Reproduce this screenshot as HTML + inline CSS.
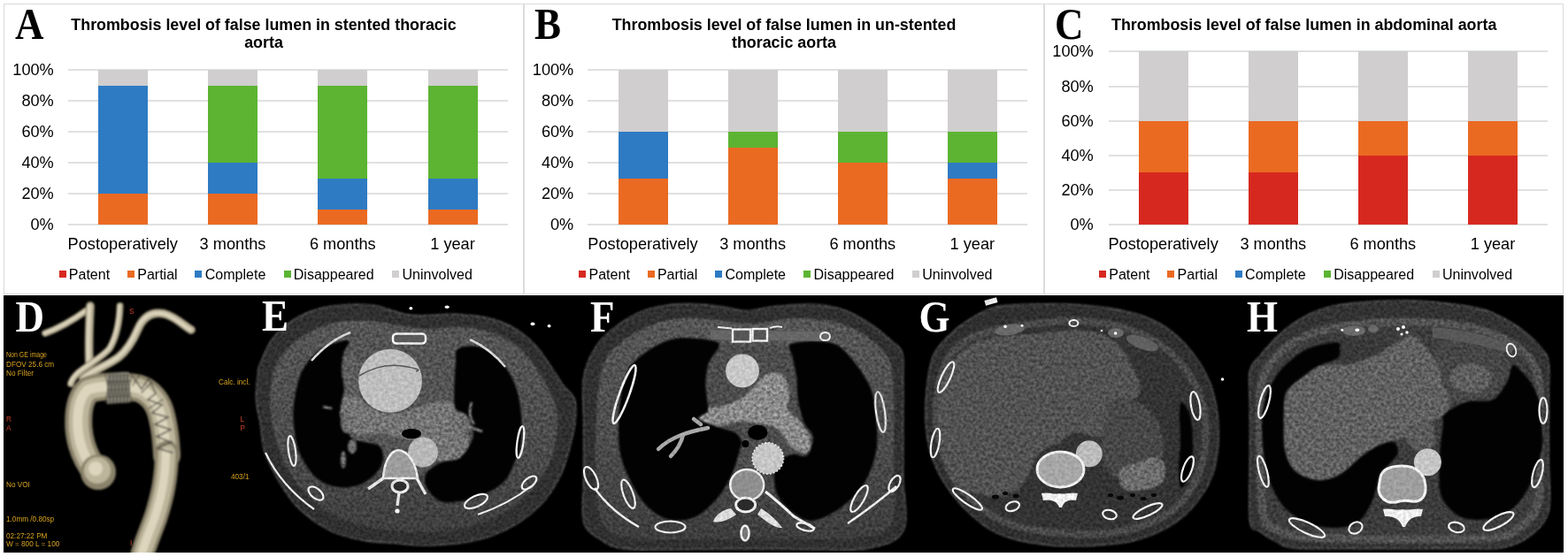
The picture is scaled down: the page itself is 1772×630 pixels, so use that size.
<!DOCTYPE html>
<html><head><meta charset="utf-8"><title>Thrombosis level of false lumen</title>
<style>
html,body{margin:0;padding:0;background:#fff;}
body{width:1772px;height:630px;position:relative;overflow:hidden;font-family:"Liberation Sans",Arial,sans-serif;color:#000;}
.frame{position:absolute;left:4px;top:4px;width:1761px;height:327px;border:1px solid #dadada;}
.vdiv{position:absolute;top:4px;width:2px;height:328px;background:#dcdcdc;}
.let{position:absolute;font-family:"Liberation Serif","Times New Roman",serif;font-weight:bold;font-size:45px;line-height:50px;transform:scaleY(1.12);transform-origin:0 0;}
.ttl{position:absolute;width:600px;text-align:center;font-weight:bold;font-size:17.85px;line-height:21px;white-space:nowrap;}
.grid{position:absolute;height:2px;background:#e0e0e0;}
.yl{position:absolute;width:60px;text-align:right;font-size:18.2px;line-height:20px;}
.bar{position:absolute;}
.xl{position:absolute;width:200px;text-align:center;font-size:18.2px;line-height:22px;white-space:nowrap;}
.lsq{position:absolute;top:306px;width:8px;height:8px;}
.ltx{position:absolute;top:300px;font-size:16.05px;line-height:20px;white-space:nowrap;}
.ct{position:absolute;left:4px;top:334px;width:1763px;height:291px;background:#000;overflow:hidden;}
.ct svg{position:absolute;left:0;top:0;}
.plet{position:absolute;font-family:"Liberation Serif","Times New Roman",serif;font-weight:bold;font-size:45px;line-height:50px;color:#fff;transform:scaleY(1.12);transform-origin:0 0;}
</style></head><body>
<div class="frame"></div>
<div class="vdiv" style="left:591px"></div>
<div class="vdiv" style="left:1179px"></div>
<div class="let" style="left:17px;top:-0.8px">A</div>
<div class="ttl" style="left:-2px;top:18.0px">Thrombosis level of false lumen in stented thoracic</div>
<div class="ttl" style="left:-2px;top:38.4px">aorta</div>
<div class="grid" style="left:76.7px;width:496.9px;top:78.0px"></div>
<div class="yl" style="left:0.8px;top:69.0px">100%</div>
<div class="grid" style="left:76.7px;width:496.9px;top:113.0px"></div>
<div class="yl" style="left:0.8px;top:104.0px">80%</div>
<div class="grid" style="left:76.7px;width:496.9px;top:148.0px"></div>
<div class="yl" style="left:0.8px;top:139.0px">60%</div>
<div class="grid" style="left:76.7px;width:496.9px;top:183.0px"></div>
<div class="yl" style="left:0.8px;top:174.0px">40%</div>
<div class="grid" style="left:76.7px;width:496.9px;top:218.0px"></div>
<div class="yl" style="left:0.8px;top:209.0px">20%</div>
<div class="grid" style="left:76.7px;width:496.9px;top:253.0px"></div>
<div class="yl" style="left:0.8px;top:244.0px">0%</div>
<div class="bar" style="left:110.8px;width:56px;top:219.0px;height:35.0px;background:#eb6a22"></div>
<div class="bar" style="left:110.8px;width:56px;top:96.5px;height:122.5px;background:#2e7bc3"></div>
<div class="bar" style="left:110.8px;width:56px;top:79.0px;height:17.5px;background:#d0cece"></div>
<div class="xl" style="left:38.8px;top:265px">Postoperatively</div>
<div class="bar" style="left:235.0px;width:56px;top:219.0px;height:35.0px;background:#eb6a22"></div>
<div class="bar" style="left:235.0px;width:56px;top:184.0px;height:35.0px;background:#2e7bc3"></div>
<div class="bar" style="left:235.0px;width:56px;top:96.5px;height:87.5px;background:#5cb432"></div>
<div class="bar" style="left:235.0px;width:56px;top:79.0px;height:17.5px;background:#d0cece"></div>
<div class="xl" style="left:163.0px;top:265px">3 months</div>
<div class="bar" style="left:359.3px;width:56px;top:236.5px;height:17.5px;background:#eb6a22"></div>
<div class="bar" style="left:359.3px;width:56px;top:201.5px;height:35.0px;background:#2e7bc3"></div>
<div class="bar" style="left:359.3px;width:56px;top:96.5px;height:105.0px;background:#5cb432"></div>
<div class="bar" style="left:359.3px;width:56px;top:79.0px;height:17.5px;background:#d0cece"></div>
<div class="xl" style="left:287.3px;top:265px">6 months</div>
<div class="bar" style="left:483.5px;width:56px;top:236.5px;height:17.5px;background:#eb6a22"></div>
<div class="bar" style="left:483.5px;width:56px;top:201.5px;height:35.0px;background:#2e7bc3"></div>
<div class="bar" style="left:483.5px;width:56px;top:96.5px;height:105.0px;background:#5cb432"></div>
<div class="bar" style="left:483.5px;width:56px;top:79.0px;height:17.5px;background:#d0cece"></div>
<div class="xl" style="left:411.5px;top:265px">1 year</div>
<div class="lsq" style="left:66.5px;background:#d7281f"></div>
<div class="ltx" style="left:77.8px">Patent</div>
<div class="lsq" style="left:143.9px;background:#eb6a22"></div>
<div class="ltx" style="left:155.2px">Partial</div>
<div class="lsq" style="left:220.4px;background:#2e7bc3"></div>
<div class="ltx" style="left:231.7px">Complete</div>
<div class="lsq" style="left:320.5px;background:#5cb432"></div>
<div class="ltx" style="left:331.8px">Disappeared</div>
<div class="lsq" style="left:443.2px;background:#d0cece"></div>
<div class="ltx" style="left:454.5px">Uninvolved</div>
<div class="let" style="left:604px;top:-0.8px">B</div>
<div class="ttl" style="left:586px;top:18.0px">Thrombosis level of false lumen in un-stented</div>
<div class="ttl" style="left:586px;top:38.4px">thoracic aorta</div>
<div class="grid" style="left:664.4px;width:496.6px;top:78.0px"></div>
<div class="yl" style="left:588.3px;top:69.0px">100%</div>
<div class="grid" style="left:664.4px;width:496.6px;top:113.0px"></div>
<div class="yl" style="left:588.3px;top:104.0px">80%</div>
<div class="grid" style="left:664.4px;width:496.6px;top:148.0px"></div>
<div class="yl" style="left:588.3px;top:139.0px">60%</div>
<div class="grid" style="left:664.4px;width:496.6px;top:183.0px"></div>
<div class="yl" style="left:588.3px;top:174.0px">40%</div>
<div class="grid" style="left:664.4px;width:496.6px;top:218.0px"></div>
<div class="yl" style="left:588.3px;top:209.0px">20%</div>
<div class="grid" style="left:664.4px;width:496.6px;top:253.0px"></div>
<div class="yl" style="left:588.3px;top:244.0px">0%</div>
<div class="bar" style="left:698.5px;width:56px;top:201.5px;height:52.5px;background:#eb6a22"></div>
<div class="bar" style="left:698.5px;width:56px;top:149.0px;height:52.5px;background:#2e7bc3"></div>
<div class="bar" style="left:698.5px;width:56px;top:79.0px;height:70.0px;background:#d0cece"></div>
<div class="xl" style="left:626.5px;top:265px">Postoperatively</div>
<div class="bar" style="left:822.6px;width:56px;top:166.5px;height:87.5px;background:#eb6a22"></div>
<div class="bar" style="left:822.6px;width:56px;top:149.0px;height:17.5px;background:#5cb432"></div>
<div class="bar" style="left:822.6px;width:56px;top:79.0px;height:70.0px;background:#d0cece"></div>
<div class="xl" style="left:750.6px;top:265px">3 months</div>
<div class="bar" style="left:946.8px;width:56px;top:184.0px;height:70.0px;background:#eb6a22"></div>
<div class="bar" style="left:946.8px;width:56px;top:149.0px;height:35.0px;background:#5cb432"></div>
<div class="bar" style="left:946.8px;width:56px;top:79.0px;height:70.0px;background:#d0cece"></div>
<div class="xl" style="left:874.8px;top:265px">6 months</div>
<div class="bar" style="left:1070.9px;width:56px;top:201.5px;height:52.5px;background:#eb6a22"></div>
<div class="bar" style="left:1070.9px;width:56px;top:184.0px;height:17.5px;background:#2e7bc3"></div>
<div class="bar" style="left:1070.9px;width:56px;top:149.0px;height:35.0px;background:#5cb432"></div>
<div class="bar" style="left:1070.9px;width:56px;top:79.0px;height:70.0px;background:#d0cece"></div>
<div class="xl" style="left:998.9px;top:265px">1 year</div>
<div class="lsq" style="left:654.2px;background:#d7281f"></div>
<div class="ltx" style="left:665.5px">Patent</div>
<div class="lsq" style="left:731.6px;background:#eb6a22"></div>
<div class="ltx" style="left:742.9px">Partial</div>
<div class="lsq" style="left:808.1px;background:#2e7bc3"></div>
<div class="ltx" style="left:819.4px">Complete</div>
<div class="lsq" style="left:908.2px;background:#5cb432"></div>
<div class="ltx" style="left:919.5px">Disappeared</div>
<div class="lsq" style="left:1030.9px;background:#d0cece"></div>
<div class="ltx" style="left:1042.2px">Uninvolved</div>
<div class="let" style="left:1192px;top:-0.8px">C</div>
<div class="ttl" style="left:1173.7px;top:18.0px">Thrombosis level of false lumen in abdominal aorta</div>
<div class="grid" style="left:1252.6px;width:496.4px;top:57.4px"></div>
<div class="yl" style="left:1175.8px;top:48.4px">100%</div>
<div class="grid" style="left:1252.6px;width:496.4px;top:96.5px"></div>
<div class="yl" style="left:1175.8px;top:87.5px">80%</div>
<div class="grid" style="left:1252.6px;width:496.4px;top:135.6px"></div>
<div class="yl" style="left:1175.8px;top:126.6px">60%</div>
<div class="grid" style="left:1252.6px;width:496.4px;top:174.8px"></div>
<div class="yl" style="left:1175.8px;top:165.8px">40%</div>
<div class="grid" style="left:1252.6px;width:496.4px;top:213.9px"></div>
<div class="yl" style="left:1175.8px;top:204.9px">20%</div>
<div class="grid" style="left:1252.6px;width:496.4px;top:253.0px"></div>
<div class="yl" style="left:1175.8px;top:244.0px">0%</div>
<div class="bar" style="left:1286.6px;width:56px;top:195.3px;height:58.7px;background:#d7281f"></div>
<div class="bar" style="left:1286.6px;width:56px;top:136.6px;height:58.7px;background:#eb6a22"></div>
<div class="bar" style="left:1286.6px;width:56px;top:58.4px;height:78.2px;background:#d0cece"></div>
<div class="xl" style="left:1214.6px;top:265px">Postoperatively</div>
<div class="bar" style="left:1410.8px;width:56px;top:195.3px;height:58.7px;background:#d7281f"></div>
<div class="bar" style="left:1410.8px;width:56px;top:136.6px;height:58.7px;background:#eb6a22"></div>
<div class="bar" style="left:1410.8px;width:56px;top:58.4px;height:78.2px;background:#d0cece"></div>
<div class="xl" style="left:1338.8px;top:265px">3 months</div>
<div class="bar" style="left:1534.8px;width:56px;top:175.8px;height:78.2px;background:#d7281f"></div>
<div class="bar" style="left:1534.8px;width:56px;top:136.6px;height:39.1px;background:#eb6a22"></div>
<div class="bar" style="left:1534.8px;width:56px;top:58.4px;height:78.2px;background:#d0cece"></div>
<div class="xl" style="left:1462.8px;top:265px">6 months</div>
<div class="bar" style="left:1659.0px;width:56px;top:175.8px;height:78.2px;background:#d7281f"></div>
<div class="bar" style="left:1659.0px;width:56px;top:136.6px;height:39.1px;background:#eb6a22"></div>
<div class="bar" style="left:1659.0px;width:56px;top:58.4px;height:78.2px;background:#d0cece"></div>
<div class="xl" style="left:1587.0px;top:265px">1 year</div>
<div class="lsq" style="left:1241.9px;background:#d7281f"></div>
<div class="ltx" style="left:1253.2px">Patent</div>
<div class="lsq" style="left:1319.3px;background:#eb6a22"></div>
<div class="ltx" style="left:1330.6px">Partial</div>
<div class="lsq" style="left:1395.8px;background:#2e7bc3"></div>
<div class="ltx" style="left:1407.1px">Complete</div>
<div class="lsq" style="left:1495.9px;background:#5cb432"></div>
<div class="ltx" style="left:1507.2px">Disappeared</div>
<div class="lsq" style="left:1618.6px;background:#d0cece"></div>
<div class="ltx" style="left:1629.9px">Uninvolved</div><div class="ctwrap">
<svg width="1772" height="630" viewBox="0 0 1772 630" style="position:absolute;left:0;top:0">
<defs><filter id="b1" x="-5%" y="-5%" width="110%" height="110%"><feGaussianBlur stdDeviation="0.8"/></filter><filter id="b2" x="-5%" y="-5%" width="110%" height="110%"><feGaussianBlur stdDeviation="2"/></filter><linearGradient id="gin" gradientUnits="userSpaceOnUse" x1="0" y1="360" x2="0" y2="615"><stop offset="0" stop-color="#565656"/><stop offset="0.55" stop-color="#4c4c4c"/><stop offset="1" stop-color="#3c3c3c"/></linearGradient><filter id="ctf" color-interpolation-filters="sRGB"><feGaussianBlur in="SourceGraphic" stdDeviation="0.8" result="b"/><feTurbulence type="fractalNoise" baseFrequency="0.28" numOctaves="2" seed="7" result="t"/><feColorMatrix in="t" type="matrix" values="1 0 0 0 0  1 0 0 0 0  1 0 0 0 0  0 0 0 0 1" result="g"/><feComposite in="b" in2="g" operator="arithmetic" k1="1.0" k2="0.5" k3="0" k4="0"/></filter><filter id="ctf2" color-interpolation-filters="sRGB"><feGaussianBlur in="SourceGraphic" stdDeviation="0.7" result="b"/><feTurbulence type="fractalNoise" baseFrequency="0.28" numOctaves="2" seed="11" result="t"/><feColorMatrix in="t" type="matrix" values="1 0 0 0 0  1 0 0 0 0  1 0 0 0 0  0 0 0 0 1" result="g"/><feComposite in="b" in2="g" operator="arithmetic" k1="0.3" k2="0.85" k3="0" k4="0"/></filter><clipPath id="cb"><rect x="4" y="334" width="1763" height="291"/></clipPath></defs>
<rect x="4" y="334" width="1763" height="291" fill="#000"/>
<g clip-path="url(#cb)">
<g filter="url(#ctf)">
<path d="M289.4,451.0 C289.0,441.0 290.9,426.8 291.7,420.0 C292.5,413.2 291.6,416.7 294.3,410.5 C297.1,404.3 302.0,390.8 308.2,382.7 C314.4,374.6 322.4,367.4 331.3,361.8 C340.2,356.2 351.1,351.9 361.5,349.0 C371.9,346.1 383.5,345.0 393.9,344.4 C404.3,343.8 415.1,344.2 424.0,345.6 C432.9,347.0 441.0,350.8 447.2,352.5 C453.4,354.2 456.4,355.2 461.0,356.0 C465.6,356.8 470.2,356.9 475.0,357.0 C479.8,357.1 483.1,356.8 490.0,356.5 C496.9,356.2 506.1,354.8 516.3,355.3 C526.5,355.8 540.2,356.9 551.0,359.5 C561.8,362.1 572.3,366.0 581.2,371.0 C590.1,376.0 597.4,382.3 604.4,389.6 C611.4,396.9 617.6,407.3 623.0,415.0 C628.4,422.7 632.4,429.8 636.8,436.0 C641.2,442.2 647.5,444.9 649.6,452.2 C651.7,459.5 651.0,469.6 649.6,480.0 C648.2,490.4 644.4,504.8 641.5,514.8 C638.6,524.8 636.8,531.3 632.2,540.2 C627.6,549.1 621.4,559.5 613.7,568.0 C606.0,576.5 595.1,585.0 585.8,591.2 C576.5,597.4 567.6,601.4 558.0,605.1 C548.4,608.8 538.8,611.3 528.0,613.2 C517.2,615.1 502.9,616.1 493.2,616.7 C483.5,617.3 477.7,617.1 470.0,616.7 C462.3,616.3 456.4,615.2 447.2,614.4 C438.0,613.6 425.5,613.7 414.7,612.0 C403.9,610.3 392.3,607.9 382.3,604.0 C372.3,600.1 363.0,594.9 354.5,588.9 C346.0,582.9 338.2,576.1 331.3,568.0 C324.4,559.9 318.2,549.9 312.8,540.2 C307.4,530.6 302.0,520.1 298.9,510.1 C295.8,500.1 295.9,489.9 294.3,480.0 C292.7,470.1 289.8,461.0 289.4,451.0Z" fill="#303030" stroke="#5e5e5e" stroke-width="1.3"/>
<path d="M305.0,455.0 C304.7,444.2 305.5,434.2 308.0,425.0 C310.5,415.8 313.8,407.8 320.0,400.0 C326.2,392.2 335.8,383.7 345.0,378.0 C354.2,372.3 364.2,368.7 375.0,366.0 C385.8,363.3 397.5,361.7 410.0,362.0 C422.5,362.3 438.3,366.3 450.0,368.0 C461.7,369.7 468.3,371.7 480.0,372.0 C491.7,372.3 507.5,369.3 520.0,370.0 C532.5,370.7 544.2,372.3 555.0,376.0 C565.8,379.7 576.7,385.5 585.0,392.0 C593.3,398.5 599.2,407.0 605.0,415.0 C610.8,423.0 615.8,430.8 620.0,440.0 C624.2,449.2 629.0,458.3 630.0,470.0 C631.0,481.7 629.0,498.3 626.0,510.0 C623.0,521.7 618.0,530.8 612.0,540.0 C606.0,549.2 598.7,557.5 590.0,565.0 C581.3,572.5 571.7,579.5 560.0,585.0 C548.3,590.5 533.3,595.2 520.0,598.0 C506.7,600.8 493.3,601.7 480.0,602.0 C466.7,602.3 453.3,601.7 440.0,600.0 C426.7,598.3 412.0,595.7 400.0,592.0 C388.0,588.3 377.7,584.2 368.0,578.0 C358.3,571.8 349.7,563.8 342.0,555.0 C334.3,546.2 327.3,535.8 322.0,525.0 C316.7,514.2 312.8,501.7 310.0,490.0 C307.2,478.3 305.3,465.8 305.0,455.0Z" fill="url(#gin)" />
<path d="M385.0,400.3 C387.8,393.1 391.1,390.3 400.3,387.6 C409.5,384.9 427.6,383.9 440.0,384.0 C452.4,384.1 465.5,386.1 475.0,388.0 C484.5,389.9 490.6,388.1 496.8,395.2 C503.0,402.3 508.6,419.8 512.0,430.8 C515.4,441.8 515.3,454.5 517.0,461.3 C518.7,468.1 519.8,465.0 522.0,471.4 C524.2,477.8 530.0,491.8 530.0,499.4 C530.0,507.0 528.0,513.2 522.0,517.0 C516.0,520.8 501.0,519.4 494.3,522.0 C487.6,524.6 487.3,530.2 481.6,532.4 C475.9,534.6 466.9,536.2 460.0,535.0 C453.1,533.8 445.8,529.2 440.0,525.0 C434.2,520.8 431.7,514.2 425.0,510.0 C418.3,505.8 406.2,504.2 400.0,500.0 C393.8,495.8 389.7,492.3 388.0,485.0 C386.3,477.7 390.7,465.0 390.0,456.0 C389.3,447.0 384.6,440.1 383.8,430.8 C383.0,421.5 382.2,407.5 385.0,400.3Z" fill="#545454" />
<path d="M392.0,440.0 C397.8,439.5 411.2,457.3 420.0,462.0 C428.8,466.7 436.7,468.0 445.0,468.0 C453.3,468.0 462.5,464.2 470.0,462.0 C477.5,459.8 483.0,456.2 490.0,455.0 C497.0,453.8 506.7,452.3 512.0,455.0 C517.3,457.7 519.0,463.7 522.0,471.0 C525.0,478.3 530.0,491.3 530.0,499.0 C530.0,506.7 528.0,513.2 522.0,517.0 C516.0,520.8 501.0,521.8 494.0,522.0 C487.0,522.2 484.0,521.7 480.0,518.0 C476.0,514.3 475.0,503.8 470.0,500.0 C465.0,496.2 456.7,496.7 450.0,495.0 C443.3,493.3 437.5,490.5 430.0,490.0 C422.5,489.5 411.7,492.8 405.0,492.0 C398.3,491.2 393.3,489.5 390.0,485.0 C386.7,480.5 384.7,472.5 385.0,465.0 C385.3,457.5 386.2,440.5 392.0,440.0Z" fill="#747474" />
<ellipse cx="396" cy="425" rx="10" ry="26" fill="#5e5e5e"/>
<path d="M394.3,385.7 C392.5,383.8 382.7,386.7 377.0,388.6 C371.3,390.5 364.7,393.7 360.0,397.0 C355.3,400.3 351.9,404.3 348.6,408.6 C345.3,412.9 342.4,417.2 340.0,422.9 C337.6,428.6 335.7,435.8 334.3,442.9 C332.9,450.0 331.6,458.1 331.4,465.7 C331.2,473.3 332.0,481.5 332.9,488.6 C333.8,495.8 334.9,502.4 337.0,508.6 C339.1,514.8 342.4,520.5 345.7,525.7 C349.0,530.9 352.7,536.2 357.0,540.0 C361.3,543.8 366.1,546.7 371.4,548.6 C376.7,550.5 382.9,551.4 388.6,551.4 C394.3,551.4 400.5,550.5 405.7,548.6 C410.9,546.7 415.9,543.3 420.0,540.0 C424.1,536.7 427.8,532.8 430.0,528.6 C432.2,524.4 433.3,519.1 433.0,515.0 C432.7,510.9 431.5,506.5 428.0,504.0 C424.5,501.5 416.7,501.2 412.0,500.0 C407.3,498.8 403.3,499.0 400.0,497.0 C396.7,495.0 394.7,492.5 392.0,488.0 C389.3,483.5 385.0,475.5 384.0,470.0 C383.0,464.5 385.2,460.0 386.0,455.0 C386.8,450.0 389.0,445.8 389.0,440.0 C389.0,434.2 386.2,426.7 386.0,420.0 C385.8,413.3 386.6,405.7 388.0,400.0 C389.4,394.3 396.1,387.6 394.3,385.7Z" fill="#020202" />
<path d="M518.0,394.3 C522.8,391.1 536.1,390.9 543.5,392.7 C550.9,394.5 557.2,400.6 562.5,405.4 C567.8,410.2 571.5,414.9 575.2,421.3 C578.9,427.7 582.4,434.5 584.8,443.5 C587.2,452.5 589.0,464.6 589.5,475.2 C590.0,485.8 589.3,499.1 588.0,507.0 C586.7,515.0 584.3,517.1 581.6,522.9 C578.9,528.7 576.2,536.7 572.0,542.0 C567.8,547.3 562.0,551.2 556.2,554.6 C550.4,558.0 543.4,560.4 537.0,562.5 C530.6,564.6 524.3,566.5 518.0,567.3 C511.7,568.1 504.3,568.9 499.0,567.3 C493.7,565.7 489.5,561.5 486.3,557.8 C483.1,554.1 480.7,548.8 480.0,545.0 C479.3,541.2 480.3,537.8 482.0,535.0 C483.7,532.2 487.2,530.0 490.0,528.0 C492.8,526.0 494.8,524.2 499.0,522.9 C503.2,521.6 511.3,521.1 515.0,520.0 C518.7,518.9 518.8,519.0 521.3,516.5 C523.8,514.0 527.7,509.4 530.0,505.0 C532.3,500.6 535.3,495.8 535.0,490.0 C534.7,484.2 531.3,474.6 528.0,470.0 C524.7,465.4 517.5,466.9 515.0,462.5 C512.5,458.1 513.3,452.0 513.3,443.5 C513.3,435.0 514.2,419.9 515.0,411.7 C515.8,403.5 513.2,397.5 518.0,394.3Z" fill="#020202" />
<g fill="#6e6e6e"><ellipse cx="392" cy="478" rx="7" ry="12"/><ellipse cx="398" cy="505" rx="5" ry="8"/><ellipse cx="388" cy="520" rx="3" ry="10"/><ellipse cx="520" cy="480" rx="9" ry="14"/></g><path d="M533,455 Q528,470 536,480 M528,482 L545,488 M365,460 L375,462" stroke="#8a8a8a" stroke-width="2.5" fill="none"/>
</g><g filter="url(#ctf2)">
<circle cx="441" cy="430.8" r="36" fill="#bebebe"/>
<path d="M406,425 Q430,410 455,414 T470,420" stroke="#555" stroke-width="1.5" fill="none"/>
<ellipse cx="465" cy="490.5" rx="11" ry="5.5" fill="#000"/>
<circle cx="478" cy="511.5" r="17" fill="#b8b8b8"/>
<path d="M450,509 C462,510 470,525 472,541 L433,541 C434,525 440,510 450,509Z" fill="#9c9c9c" stroke="#ececec" stroke-width="2.5"/>
<path d="M433,541 L416,553 M471,541 L481,559 M451,557 L449,572" stroke="#e4e4e4" stroke-width="3.4" fill="none"/>
<ellipse cx="452" cy="550" rx="9" ry="7" fill="#2e2e2e" stroke="#e8e8e8" stroke-width="3"/>
<circle cx="449" cy="578" r="2.6" fill="#fff"/>
<ellipse cx="330" cy="510" rx="4" ry="17" transform="rotate(-8 330 510)" fill="none" stroke="#f2f2f2" stroke-width="2.2"/>
<ellipse cx="357" cy="558" rx="10" ry="5.5" transform="rotate(40 357 558)" fill="none" stroke="#f2f2f2" stroke-width="2.2"/>
<path d="M300,512 Q318,550 355,576" stroke="#efefef" stroke-width="2.2" fill="none"/>
<ellipse cx="588" cy="500" rx="3.5" ry="18" transform="rotate(8 588 500)" fill="none" stroke="#f2f2f2" stroke-width="2.2"/>
<ellipse cx="538" cy="567" rx="14" ry="6" transform="rotate(-25 538 567)" fill="none" stroke="#f2f2f2" stroke-width="2.2"/>
<ellipse cx="598" cy="546" rx="10" ry="5" transform="rotate(-40 598 546)" fill="none" stroke="#f2f2f2" stroke-width="2.2"/>
<path d="M540,582 Q575,570 600,550" stroke="#efefef" stroke-width="2.2" fill="none"/>
<path d="M352,408 Q372,385 396,376" stroke="#d8d8d8" stroke-width="2.5" fill="none"/>
<path d="M531,384 Q555,395 571,415" stroke="#d8d8d8" stroke-width="2.5" fill="none"/>
<rect x="444" y="377.5" width="37" height="11" rx="4" fill="#5a5a5a" stroke="#f0f0f0" stroke-width="2.6"/>
<ellipse cx="505.2" cy="347.2" rx="2.5" ry="1.8" fill="#fff"/><ellipse cx="464.3" cy="348.7" rx="2" ry="1.8" fill="#fff"/><ellipse cx="602" cy="366.4" rx="2.5" ry="1.8" fill="#fff"/><ellipse cx="620.6" cy="368.8" rx="2" ry="1.8" fill="#fff"/>
</g>
<g filter="url(#ctf)">
<path d="M659.6,426.7 C661.9,412.0 667.3,401.6 673.5,392.0 C679.7,382.4 688.2,375.4 696.7,368.8 C705.2,362.2 714.1,356.6 724.5,352.5 C734.9,348.4 747.7,345.8 759.3,344.4 C770.9,343.0 783.6,343.8 794.0,344.4 C804.4,345.0 813.3,346.7 821.8,347.9 C830.3,349.1 836.2,351.6 845.0,351.4 C853.8,351.2 862.1,347.9 874.8,346.7 C887.5,345.5 907.5,343.6 921.0,344.4 C934.5,345.2 945.4,347.7 955.8,351.4 C966.2,355.1 975.1,360.8 983.6,366.4 C992.1,372.0 1000.8,379.6 1006.8,385.0 C1012.8,390.4 1017.3,391.4 1019.6,398.9 C1021.9,406.4 1020.5,416.5 1020.7,430.0 C1020.9,443.5 1020.7,461.7 1020.7,480.0 C1020.7,498.3 1020.7,519.9 1020.7,540.0 C1020.7,560.1 1027.7,587.1 1020.7,600.5 C1013.8,613.9 999.1,617.1 979.0,620.5 C958.9,623.9 929.8,620.9 900.0,621.0 C870.2,621.1 832.0,621.0 800.0,621.0 C768.0,621.0 728.6,622.9 708.3,621.0 C688.0,619.1 686.3,614.9 678.2,609.7 C670.1,604.5 662.7,601.6 659.6,590.0 C656.5,578.4 659.6,558.3 659.6,540.0 C659.6,521.7 659.6,498.9 659.6,480.0 C659.6,461.1 657.3,441.4 659.6,426.7Z" fill="#303030" stroke="#5e5e5e" stroke-width="1.3"/>
<path d="M676.0,440.0 C678.0,424.2 680.2,414.2 685.0,405.0 C689.8,395.8 696.7,391.2 705.0,385.0 C713.3,378.8 724.2,372.2 735.0,368.0 C745.8,363.8 757.5,361.0 770.0,360.0 C782.5,359.0 796.7,361.0 810.0,362.0 C823.3,363.0 835.0,366.3 850.0,366.0 C865.0,365.7 883.3,360.0 900.0,360.0 C916.7,360.0 935.8,361.8 950.0,366.0 C964.2,370.2 975.7,377.7 985.0,385.0 C994.3,392.3 1001.8,399.2 1006.0,410.0 C1010.2,420.8 1009.3,431.7 1010.0,450.0 C1010.7,468.3 1010.3,496.7 1010.0,520.0 C1009.7,543.3 1013.8,575.3 1008.0,590.0 C1002.2,604.7 993.0,604.7 975.0,608.0 C957.0,611.3 929.2,609.7 900.0,610.0 C870.8,610.3 830.0,610.0 800.0,610.0 C770.0,610.0 739.2,612.0 720.0,610.0 C700.8,608.0 692.7,606.3 685.0,598.0 C677.3,589.7 676.0,576.3 674.0,560.0 C672.0,543.7 672.7,520.0 673.0,500.0 C673.3,480.0 674.0,455.8 676.0,440.0Z" fill="url(#gin)" />
<path d="M808.0,395.0 C813.9,390.2 822.9,389.8 833.5,389.0 C844.1,388.2 861.5,389.0 871.6,390.0 C881.8,391.0 889.8,388.2 894.4,395.0 C899.0,401.8 898.2,419.3 899.5,430.8 C900.8,442.3 900.2,455.6 902.0,463.8 C903.8,472.0 909.5,474.8 910.0,480.0 C910.5,485.2 908.3,491.7 905.0,495.0 C901.7,498.3 894.2,495.8 890.0,500.0 C885.8,504.2 885.0,513.7 880.0,520.0 C875.0,526.3 866.7,536.3 860.0,538.0 C853.3,539.7 845.8,535.5 840.0,530.0 C834.2,524.5 829.2,511.7 825.0,505.0 C820.8,498.3 819.1,495.0 815.0,490.0 C810.9,485.0 803.8,482.8 800.5,475.0 C797.2,467.2 795.8,453.0 795.4,443.5 C795.0,434.0 795.9,426.1 798.0,418.0 C800.1,409.9 802.1,399.8 808.0,395.0Z" fill="#4c4c4c" />
<path d="M866.0,423.0 C871.5,420.8 880.7,421.3 885.0,425.0 C889.3,428.7 891.2,438.8 892.0,445.0 C892.8,451.2 887.8,456.5 890.0,462.0 C892.2,467.5 900.7,472.0 905.0,478.0 C909.3,484.0 914.8,492.3 916.0,498.0 C917.2,503.7 915.5,510.7 912.0,512.0 C908.5,513.3 900.8,510.7 895.0,506.0 C889.2,501.3 884.5,488.7 877.0,484.0 C869.5,479.3 857.8,479.2 850.0,478.0 C842.2,476.8 836.7,476.2 830.0,477.0 C823.3,477.8 816.7,482.5 810.0,483.0 C803.3,483.5 795.3,482.2 790.0,480.0 C784.7,477.8 778.0,473.0 778.0,470.0 C778.0,467.0 783.8,463.7 790.0,462.0 C796.2,460.3 807.5,461.7 815.0,460.0 C822.5,458.3 828.8,455.7 835.0,452.0 C841.2,448.3 846.8,442.8 852.0,438.0 C857.2,433.2 860.5,425.2 866.0,423.0Z" fill="#8a8a8a" />
<path d="M715.2,410.5 C719.8,405.9 728.6,398.6 736.0,394.2 C743.4,389.8 751.2,385.7 759.3,383.8 C767.4,381.9 776.6,382.3 784.7,382.7 C792.8,383.1 803.4,384.4 808.0,386.0 C812.6,387.6 813.8,387.9 812.6,392.0 C811.4,396.1 803.5,403.9 801.0,410.5 C798.5,417.1 797.9,424.8 797.5,431.3 C797.1,437.9 798.3,444.2 798.7,449.8 C799.1,455.4 801.5,461.0 800.0,465.0 C798.5,469.0 787.5,470.8 790.0,474.0 C792.5,477.2 808.0,481.3 815.0,484.0 C822.0,486.7 828.2,487.3 832.0,490.0 C835.8,492.7 837.4,496.7 838.0,500.0 C838.6,503.3 836.9,505.6 835.7,510.0 C834.5,514.4 832.9,520.9 831.0,526.3 C829.1,531.7 827.2,536.8 824.1,542.6 C821.0,548.4 817.6,554.8 812.6,561.0 C807.6,567.2 800.2,575.1 794.0,579.6 C787.8,584.1 782.5,586.5 775.5,587.7 C768.5,588.9 759.6,589.1 752.3,586.6 C745.0,584.1 737.7,578.9 731.5,572.7 C725.3,566.5 720.2,559.1 715.2,549.5 C710.2,539.9 704.0,526.4 701.3,514.8 C698.6,503.2 699.0,490.8 699.0,480.0 C699.0,469.2 699.8,459.5 701.3,449.8 C702.8,440.1 706.0,428.6 708.3,422.0 C710.6,415.4 710.6,415.1 715.2,410.5Z" fill="#020202" />
<path d="M893.3,389.6 C897.5,386.7 912.5,386.0 921.0,386.0 C929.5,386.0 937.7,386.7 944.3,389.6 C950.9,392.5 955.5,398.1 960.5,403.5 C965.5,408.9 970.1,415.1 974.4,422.0 C978.6,428.9 983.3,435.5 986.0,445.2 C988.7,454.9 989.8,469.6 990.6,480.0 C991.4,490.4 992.2,498.1 990.6,507.8 C989.0,517.5 985.5,529.1 981.3,538.0 C977.0,546.9 971.6,554.1 965.1,561.0 C958.6,567.9 950.1,574.9 942.0,579.6 C933.9,584.3 924.2,589.0 916.5,589.0 C908.8,589.0 901.8,584.3 895.6,579.6 C889.4,574.9 882.9,567.9 879.4,561.0 C875.9,554.1 874.7,544.5 874.8,538.0 C874.9,531.5 876.6,526.0 880.0,522.0 C883.4,518.0 889.7,515.2 895.0,514.0 C900.3,512.8 908.0,518.3 912.0,515.0 C916.0,511.7 919.2,499.8 918.8,494.0 C918.4,488.2 911.8,484.7 909.5,480.0 C907.2,475.3 906.2,471.0 904.9,466.0 C903.5,461.0 902.2,456.4 901.4,449.8 C900.6,443.2 901.2,434.4 900.2,426.7 C899.2,419.0 896.8,409.7 895.6,403.5 C894.5,397.3 889.1,392.5 893.3,389.6Z" fill="#020202" />
</g><g filter="url(#ctf2)">
<circle cx="839" cy="419.4" r="19" fill="#c8c8c8"/>
<ellipse cx="856.3" cy="489.2" rx="11" ry="8.5" fill="#000"/><circle cx="842.4" cy="502" r="4" fill="#000"/>
<circle cx="867.8" cy="518.4" r="17.8" fill="#c6c6c6" stroke="#f4f4f4" stroke-width="1.6" stroke-dasharray="1.5 2.5"/>
<path d="M800,484 C790,486 780,488 770,492 C762,495 752,500 744,508 M772,492 C770,500 766,508 758,516 M792,480 L784,474" stroke="#a8a8a8" stroke-width="4.5" fill="none" stroke-linecap="round"/>
<ellipse cx="844.2" cy="548.5" rx="19" ry="17.5" fill="#8e8e8e" stroke="#ececec" stroke-width="2.5"/>
<path d="M826,575 C818,576 808,582 806,590 C814,592 824,588 832,582Z M860,575 C868,580 878,588 884,597 C876,598 866,590 856,582Z" fill="#dcdcdc"/>
<ellipse cx="842.6" cy="571" rx="11" ry="8" fill="#2a2a2a" stroke="#ececec" stroke-width="3"/>
<ellipse cx="842" cy="603" rx="4.5" ry="8.5" fill="#777" stroke="#eee" stroke-width="2.5"/>
<path d="M865,556 Q880,568 897,584 L921,598" stroke="#eee" stroke-width="3" fill="none"/>
<ellipse cx="668" cy="541" rx="6" ry="14" transform="rotate(-25 668 541)" fill="none" stroke="#f2f2f2" stroke-width="2.2"/>
<path d="M672,552 Q690,578 722,596" stroke="#efefef" stroke-width="2.4" fill="none"/>
<ellipse cx="710" cy="558.8" rx="5.5" ry="17" transform="rotate(-20 710 558.8)" fill="none" stroke="#f2f2f2" stroke-width="2.2"/>
<ellipse cx="757.5" cy="596" rx="17" ry="6.5" transform="rotate(0 757.5 596)" fill="none" stroke="#f2f2f2" stroke-width="2.2"/>
<ellipse cx="971" cy="564" rx="5.5" ry="17" transform="rotate(30 971 564)" fill="none" stroke="#f2f2f2" stroke-width="2.2"/>
<path d="M958,592 Q990,570 1013,550" stroke="#efefef" stroke-width="2.4" fill="none"/>
<ellipse cx="1011" cy="547" rx="5" ry="10" transform="rotate(30 1011 547)" fill="none" stroke="#f2f2f2" stroke-width="2.2"/>
<ellipse cx="910" cy="596" rx="10" ry="4" transform="rotate(15 910 596)" fill="none" stroke="#f2f2f2" stroke-width="2.2"/>
<ellipse cx="995" cy="466" rx="5" ry="23" transform="rotate(-8 995 466)" fill="none" stroke="#f2f2f2" stroke-width="2.2"/>
<ellipse cx="705.5" cy="446" rx="5.5" ry="35" transform="rotate(20 705.5 446)" fill="none" stroke="#f2f2f2" stroke-width="2.6"/>
<path d="M803,373 L938,375 L938,386 L803,384Z" fill="#666"/>
<g fill="#555" stroke="#f0f0f0" stroke-width="2.4"><rect x="828" y="372.5" width="20" height="14"/><rect x="850.5" y="372" width="16.5" height="13.5"/></g>
<path d="M811,370 L827,371.5 M870,371 C875,369 880,369 884,370" stroke="#eee" stroke-width="2" fill="none"/>
<ellipse cx="932.5" cy="380.5" rx="5.5" ry="4.5" transform="rotate(0 932.5 380.5)" fill="none" stroke="#f2f2f2" stroke-width="2"/>
</g>
<g filter="url(#ctf)">
<path d="M1045.9,473.0 C1045.5,460.2 1046.7,443.3 1048.2,431.3 C1049.7,419.3 1051.2,409.7 1055.0,401.2 C1058.8,392.7 1064.7,386.9 1071.3,380.3 C1077.9,373.7 1086.0,367.2 1094.5,361.8 C1103.0,356.4 1112.6,350.8 1122.3,347.9 C1132.0,345.0 1141.6,345.1 1152.4,344.4 C1163.2,343.7 1176.8,343.7 1187.2,343.7 C1197.6,343.7 1203.5,343.5 1215.0,344.4 C1226.5,345.3 1243.6,346.9 1256.3,349.0 C1269.0,351.1 1280.6,353.5 1291.0,357.2 C1301.4,360.9 1310.8,365.6 1318.9,371.0 C1327.0,376.4 1333.5,383.0 1339.7,389.6 C1345.9,396.2 1351.3,403.2 1356.0,410.5 C1360.7,417.8 1364.5,425.5 1367.6,433.6 C1370.7,441.7 1373.0,451.4 1374.5,459.1 C1376.0,466.8 1376.4,472.6 1376.8,480.0 C1377.2,487.4 1377.6,494.7 1376.8,503.2 C1376.0,511.7 1374.9,522.1 1372.2,531.0 C1369.5,539.9 1366.0,548.0 1360.6,556.5 C1355.2,565.0 1347.8,574.7 1339.7,582.0 C1331.6,589.3 1322.0,595.5 1312.0,600.5 C1302.0,605.5 1290.7,609.3 1279.5,612.0 C1268.3,614.7 1256.4,615.7 1244.8,616.7 C1233.2,617.7 1221.5,618.1 1210.0,617.9 C1198.5,617.7 1186.3,616.9 1175.6,615.5 C1164.8,614.1 1155.2,612.6 1145.5,609.7 C1135.8,606.8 1126.2,603.2 1117.7,598.2 C1109.2,593.2 1101.5,586.2 1094.5,579.6 C1087.5,573.0 1081.8,566.5 1076.0,558.8 C1070.2,551.1 1064.0,541.8 1059.8,533.3 C1055.5,524.8 1052.8,517.9 1050.5,507.8 C1048.2,497.8 1046.3,485.8 1045.9,473.0Z" fill="#2f2f2f" stroke="#5e5e5e" stroke-width="1.3"/>
<path d="M1058.0,470.0 C1057.3,455.8 1059.2,441.7 1062.0,430.0 C1064.8,418.3 1069.0,408.0 1075.0,400.0 C1081.0,392.0 1088.8,386.7 1098.0,382.0 C1107.2,377.3 1118.0,374.7 1130.0,372.0 C1142.0,369.3 1155.8,367.5 1170.0,366.0 C1184.2,364.5 1200.8,362.8 1215.0,363.0 C1229.2,363.2 1242.5,364.5 1255.0,367.0 C1267.5,369.5 1279.5,373.3 1290.0,378.0 C1300.5,382.7 1309.7,388.3 1318.0,395.0 C1326.3,401.7 1333.8,409.7 1340.0,418.0 C1346.2,426.3 1351.3,435.5 1355.0,445.0 C1358.7,454.5 1360.8,465.0 1362.0,475.0 C1363.2,485.0 1363.2,495.0 1362.0,505.0 C1360.8,515.0 1358.7,525.5 1355.0,535.0 C1351.3,544.5 1346.7,553.8 1340.0,562.0 C1333.3,570.2 1325.0,578.0 1315.0,584.0 C1305.0,590.0 1292.5,594.7 1280.0,598.0 C1267.5,601.3 1253.3,603.2 1240.0,604.0 C1226.7,604.8 1213.3,604.0 1200.0,603.0 C1186.7,602.0 1172.5,601.0 1160.0,598.0 C1147.5,595.0 1135.0,590.2 1125.0,585.0 C1115.0,579.8 1107.5,573.7 1100.0,567.0 C1092.5,560.3 1085.7,553.7 1080.0,545.0 C1074.3,536.3 1069.7,527.5 1066.0,515.0 C1062.3,502.5 1058.7,484.2 1058.0,470.0Z" fill="#333333" stroke="#4a4a4a" stroke-width="8"/>
<path d="M1059.8,473.0 C1059.0,457.2 1061.3,442.5 1064.4,431.3 C1067.5,420.1 1072.1,413.1 1078.3,405.8 C1084.5,398.5 1093.0,391.6 1101.5,387.3 C1110.0,383.1 1118.9,381.9 1129.3,380.3 C1139.7,378.8 1149.7,379.1 1164.0,378.0 C1178.3,376.9 1201.5,373.4 1215.0,373.4 C1228.5,373.4 1237.0,375.6 1244.8,378.0 C1252.6,380.4 1257.0,383.4 1262.0,388.0 C1267.0,392.6 1270.7,397.7 1275.0,405.4 C1279.3,413.1 1286.4,426.6 1288.0,434.0 C1289.6,441.4 1287.8,446.3 1284.8,449.8 C1281.8,453.3 1274.5,451.6 1270.0,455.0 C1265.5,458.4 1261.3,464.2 1258.0,470.0 C1254.7,475.8 1253.0,485.8 1250.0,490.0 C1247.0,494.2 1245.8,495.1 1240.0,495.0 C1234.2,494.9 1222.2,488.3 1215.0,489.3 C1207.8,490.3 1202.7,497.4 1196.5,500.9 C1190.3,504.3 1182.6,506.5 1178.0,510.0 C1173.4,513.5 1171.4,517.0 1168.7,521.7 C1166.0,526.4 1165.6,532.2 1161.7,538.0 C1157.8,543.8 1152.8,552.7 1145.5,556.5 C1138.2,560.3 1128.1,562.2 1117.7,561.0 C1107.3,559.8 1091.1,555.3 1083.0,549.5 C1074.9,543.7 1072.9,539.0 1069.0,526.3 C1065.1,513.5 1060.6,488.8 1059.8,473.0Z" fill="#525252" />
<path d="M1255.0,455.0 C1259.5,450.7 1268.3,451.2 1275.0,452.0 C1281.7,452.8 1289.2,455.3 1295.0,460.0 C1300.8,464.7 1306.7,472.5 1310.0,480.0 C1313.3,487.5 1315.0,497.5 1315.0,505.0 C1315.0,512.5 1314.2,520.0 1310.0,525.0 C1305.8,530.0 1297.5,532.5 1290.0,535.0 C1282.5,537.5 1271.7,540.8 1265.0,540.0 C1258.3,539.2 1253.3,535.8 1250.0,530.0 C1246.7,524.2 1245.3,513.7 1245.0,505.0 C1244.7,496.3 1246.3,486.3 1248.0,478.0 C1249.7,469.7 1250.5,459.3 1255.0,455.0Z" fill="#474747" />
<path d="M1268.0,530.0 C1272.2,526.5 1283.8,524.2 1290.0,522.0 C1296.2,519.8 1300.7,516.5 1305.0,517.0 C1309.3,517.5 1314.5,520.3 1316.0,525.0 C1317.5,529.7 1317.5,540.2 1314.0,545.0 C1310.5,549.8 1302.0,552.5 1295.0,554.0 C1288.0,555.5 1277.0,555.8 1272.0,554.0 C1267.0,552.2 1265.7,547.0 1265.0,543.0 C1264.3,539.0 1263.8,533.5 1268.0,530.0Z" fill="#6c6c6c" />
<path d="M1335.0,455.0 C1337.0,455.0 1342.8,461.7 1345.0,470.0 C1347.2,478.3 1348.0,494.2 1348.0,505.0 C1348.0,515.8 1347.2,527.2 1345.0,535.0 C1342.8,542.8 1337.2,552.8 1335.0,552.0 C1332.8,551.2 1332.2,538.7 1332.0,530.0 C1331.8,521.3 1333.8,510.0 1334.0,500.0 C1334.2,490.0 1332.8,477.5 1333.0,470.0 C1333.2,462.5 1333.0,455.0 1335.0,455.0Z" fill="#020202" />
</g><g filter="url(#ctf2)">
<circle cx="1230.8" cy="513.3" r="15" fill="#bcbcbc"/>
<ellipse cx="1198.5" cy="531" rx="26.5" ry="20" fill="#a6a6a6" stroke="#f0f0f0" stroke-width="3"/>
<path d="M1177,558 C1185,556 1192,560 1197,558 C1202,560 1210,556 1218,558 L1216,566 C1208,565 1203,566 1200,574 L1197,574 C1194,566 1188,565 1179,566Z" fill="#efefef"/>
<ellipse cx="1057" cy="501" rx="4.5" ry="16.5" transform="rotate(10 1057 501)" fill="none" stroke="#f2f2f2" stroke-width="2.2"/>
<ellipse cx="1069" cy="426.6" rx="5" ry="19" transform="rotate(25 1069 426.6)" fill="none" stroke="#f2f2f2" stroke-width="2.2"/>
<ellipse cx="1093.3" cy="564.5" rx="20" ry="5" transform="rotate(35 1093.3 564.5)" fill="none" stroke="#f2f2f2" stroke-width="2.2"/>
<ellipse cx="1144.3" cy="572.7" rx="8" ry="5" transform="rotate(-20 1144.3 572.7)" fill="none" stroke="#f2f2f2" stroke-width="2.2"/>
<ellipse cx="1342" cy="530.5" rx="5" ry="15" transform="rotate(20 1342 530.5)" fill="none" stroke="#f2f2f2" stroke-width="2.2"/>
<ellipse cx="1351" cy="459" rx="5" ry="16" transform="rotate(-10 1351 459)" fill="none" stroke="#f2f2f2" stroke-width="2.2"/>
<ellipse cx="1297" cy="578" rx="18" ry="5" transform="rotate(-25 1297 578)" fill="none" stroke="#f2f2f2" stroke-width="2.2"/>
<ellipse cx="1254" cy="582" rx="8" ry="5" transform="rotate(15 1254 582)" fill="none" stroke="#f2f2f2" stroke-width="2.2"/>
<rect x="1113" y="338" width="14" height="6" fill="#e8e8e8" transform="rotate(-15 1120 341)"/>
<g fill="#080808"><ellipse cx="1125" cy="562" rx="4" ry="2.5"/><ellipse cx="1136" cy="558" rx="3" ry="2"/><ellipse cx="1148" cy="561" rx="3.5" ry="2.2"/><ellipse cx="1255" cy="560" rx="3" ry="2"/><ellipse cx="1266" cy="563" rx="4" ry="2.5"/><ellipse cx="1280" cy="560" rx="3" ry="2"/><ellipse cx="1292" cy="564" rx="3.5" ry="2"/><ellipse cx="1304" cy="560" rx="3" ry="2"/></g>
<circle cx="1381.5" cy="429" r="1.8" fill="#fff"/>
<ellipse cx="1141" cy="373" rx="17" ry="6" transform="rotate(-8 1141 373)" fill="#6a6a6a"/><ellipse cx="1261" cy="376.5" rx="9" ry="5.5" fill="#6a6a6a"/><ellipse cx="1291" cy="388" rx="19" ry="7" transform="rotate(20 1291 388)" fill="#606060"/>
<circle cx="1136" cy="369.3" r="1.8" fill="#fff"/><circle cx="1155" cy="368.2" r="1.5" fill="#fff"/><circle cx="1260.7" cy="377" r="1.8" fill="#fff"/><circle cx="1245" cy="374" r="1.3" fill="#eee"/>
<ellipse cx="1213.4" cy="365.5" rx="5" ry="3.5" transform="rotate(0 1213.4 365.5)" fill="none" stroke="#f2f2f2" stroke-width="2"/>
</g>
<g filter="url(#ctf)">
<path d="M1412.4,419.7 C1414.5,409.9 1419.4,408.1 1425.0,401.2 C1430.6,394.2 1438.2,384.9 1446.0,378.0 C1453.8,371.1 1462.6,364.5 1471.5,359.5 C1480.4,354.5 1488.9,350.8 1499.3,347.9 C1509.7,345.0 1519.7,343.5 1534.0,342.1 C1548.3,340.8 1569.6,339.8 1585.0,339.8 C1600.4,339.8 1611.7,340.6 1626.3,342.1 C1640.9,343.6 1660.0,345.7 1672.7,349.0 C1685.5,352.3 1694.3,357.4 1702.8,361.8 C1711.3,366.2 1717.1,370.3 1723.7,375.7 C1730.3,381.1 1737.8,388.4 1742.2,394.2 C1746.6,400.0 1749.0,401.2 1750.3,410.5 C1751.6,419.8 1750.3,431.8 1750.3,450.0 C1750.3,468.2 1750.3,498.8 1750.3,520.0 C1750.3,541.2 1753.6,563.1 1750.3,577.3 C1747.0,591.5 1738.9,598.1 1730.6,605.1 C1722.3,612.1 1713.9,616.4 1700.5,619.0 C1687.1,621.6 1675.1,620.2 1650.0,620.5 C1624.9,620.8 1580.9,620.6 1550.0,620.5 C1519.1,620.4 1482.6,621.4 1464.5,620.0 C1446.4,618.6 1448.2,615.2 1441.3,612.0 C1434.3,608.8 1427.6,604.3 1422.8,600.5 C1418.0,596.7 1414.1,602.4 1412.4,589.0 C1410.7,575.6 1412.4,541.5 1412.4,520.0 C1412.4,498.5 1412.4,476.7 1412.4,460.0 C1412.4,443.3 1410.3,429.5 1412.4,419.7Z" fill="#333333" stroke="#5e5e5e" stroke-width="1.3"/>
<path d="M1426.0,430.0 C1428.7,420.8 1433.5,412.5 1440.0,405.0 C1446.5,397.5 1455.0,390.5 1465.0,385.0 C1475.0,379.5 1487.5,375.2 1500.0,372.0 C1512.5,368.8 1525.0,367.3 1540.0,366.0 C1555.0,364.7 1573.3,363.8 1590.0,364.0 C1606.7,364.2 1625.0,365.2 1640.0,367.0 C1655.0,368.8 1668.0,371.2 1680.0,375.0 C1692.0,378.8 1703.3,384.2 1712.0,390.0 C1720.7,395.8 1727.3,401.7 1732.0,410.0 C1736.7,418.3 1738.7,421.7 1740.0,440.0 C1741.3,458.3 1740.3,498.3 1740.0,520.0 C1739.7,541.7 1741.3,557.5 1738.0,570.0 C1734.7,582.5 1728.0,588.7 1720.0,595.0 C1712.0,601.3 1710.0,605.5 1690.0,608.0 C1670.0,610.5 1635.0,610.0 1600.0,610.0 C1565.0,610.0 1505.8,609.7 1480.0,608.0 C1454.2,606.3 1453.7,603.8 1445.0,600.0 C1436.3,596.2 1431.5,598.3 1428.0,585.0 C1424.5,571.7 1424.7,540.8 1424.0,520.0 C1423.3,499.2 1423.7,475.0 1424.0,460.0 C1424.3,445.0 1423.3,439.2 1426.0,430.0Z" fill="#3c3c3c" stroke="#525252" stroke-width="9"/>
<path d="M1620.0,390.0 C1623.8,384.7 1638.3,384.7 1650.0,385.0 C1661.7,385.3 1680.5,387.7 1690.0,392.0 C1699.5,396.3 1704.2,405.2 1707.0,411.0 C1709.8,416.8 1708.2,422.2 1707.0,427.0 C1705.8,431.8 1703.9,435.3 1699.5,440.0 C1695.1,444.7 1688.4,452.7 1680.5,455.2 C1672.6,457.7 1659.0,455.8 1652.0,455.2 C1645.0,454.6 1642.1,454.6 1638.6,451.4 C1635.1,448.2 1632.9,441.7 1631.0,436.0 C1629.1,430.3 1628.8,424.7 1627.0,417.0 C1625.2,409.3 1616.2,395.3 1620.0,390.0Z" fill="#454545" />
<ellipse cx="1662" cy="428" rx="24" ry="17" fill="#5e5e5e"/>
<path d="M1450.6,480.0 C1450.6,470.3 1450.6,456.8 1451.8,449.8 C1453.0,442.9 1454.3,442.2 1457.6,438.3 C1460.9,434.4 1466.1,430.8 1471.5,426.7 C1476.9,422.6 1480.6,416.6 1490.0,414.0 C1499.4,411.4 1515.9,414.4 1528.0,411.4 C1540.1,408.4 1552.9,400.9 1562.4,396.2 C1571.9,391.4 1579.5,385.8 1585.2,382.9 C1590.9,380.0 1592.9,378.1 1596.7,379.0 C1600.5,379.9 1604.2,384.5 1608.0,388.6 C1611.8,392.7 1616.3,399.1 1619.5,403.8 C1622.7,408.5 1625.1,411.6 1627.0,417.0 C1628.9,422.4 1629.1,430.3 1631.0,436.0 C1632.9,441.7 1638.0,446.3 1638.6,451.4 C1639.2,456.5 1638.7,462.3 1634.8,466.7 C1630.9,471.1 1620.8,474.9 1615.0,478.0 C1609.2,481.1 1603.8,482.3 1600.0,485.0 C1596.2,487.7 1595.3,492.1 1592.0,494.0 C1588.7,495.9 1585.3,494.9 1580.0,496.4 C1574.7,497.9 1566.7,499.9 1560.0,503.0 C1553.3,506.1 1547.4,509.5 1540.0,515.0 C1532.6,520.5 1523.1,531.3 1515.5,536.0 C1507.9,540.7 1501.2,542.3 1494.6,543.0 C1488.0,543.7 1481.8,542.4 1476.0,540.0 C1470.2,537.6 1463.9,534.1 1459.9,528.7 C1455.9,523.3 1453.3,515.9 1451.8,507.8 C1450.2,499.7 1450.6,489.7 1450.6,480.0Z" fill="#606060" />
<path d="M1513.0,385.0 C1517.5,380.8 1531.2,382.2 1540.0,383.0 C1548.8,383.8 1562.3,387.5 1566.0,390.0 C1569.7,392.5 1568.3,394.5 1562.0,398.0 C1555.7,401.5 1536.2,409.3 1528.0,411.0 C1519.8,412.7 1515.5,412.3 1513.0,408.0 C1510.5,403.7 1508.5,389.2 1513.0,385.0Z" fill="#383838" />
<path d="M1441.3,426.7 C1445.5,420.1 1449.0,415.9 1455.2,410.5 C1461.4,405.1 1469.1,398.1 1478.4,394.2 C1487.7,390.3 1504.9,387.2 1510.8,387.3 C1516.7,387.4 1513.6,392.3 1514.0,395.0 C1514.4,397.7 1514.5,401.3 1513.2,403.5 C1511.9,405.7 1510.1,406.2 1506.2,408.0 C1502.3,409.8 1495.8,410.9 1490.0,414.0 C1484.2,417.1 1476.9,422.6 1471.5,426.7 C1466.1,430.8 1460.9,434.4 1457.6,438.3 C1454.3,442.2 1453.0,442.9 1451.8,449.8 C1450.6,456.8 1450.6,470.3 1450.6,480.0 C1450.6,489.7 1450.2,499.7 1451.8,507.8 C1453.3,515.9 1455.9,523.3 1459.9,528.7 C1463.9,534.1 1470.2,537.6 1476.0,540.0 C1481.8,542.4 1488.0,543.7 1494.6,543.0 C1501.2,542.3 1507.9,540.7 1515.5,536.0 C1523.1,531.3 1532.6,520.5 1540.0,515.0 C1547.4,509.5 1554.2,505.5 1560.0,503.0 C1565.8,500.5 1571.7,498.5 1575.0,500.0 C1578.3,501.5 1580.7,508.0 1580.0,512.0 C1579.3,516.0 1574.4,520.1 1571.0,524.0 C1567.6,527.9 1562.2,530.6 1559.5,535.6 C1556.8,540.6 1556.8,547.9 1554.9,554.1 C1553.0,560.3 1551.5,566.5 1548.0,572.7 C1544.5,578.9 1540.2,587.2 1534.0,591.2 C1527.8,595.2 1519.3,596.6 1510.8,597.0 C1502.3,597.4 1491.9,596.4 1483.0,593.5 C1474.1,590.6 1464.5,585.4 1457.6,579.6 C1450.6,573.8 1445.9,567.7 1441.3,558.8 C1436.7,549.9 1432.3,539.4 1429.8,526.3 C1427.2,513.2 1426.0,492.7 1426.0,480.0 C1426.0,467.3 1427.5,458.9 1430.0,450.0 C1432.5,441.1 1437.1,433.3 1441.3,426.7Z" fill="#020202" />
<path d="M1632.3,468.5 C1636.8,464.3 1648.7,457.3 1657.7,454.6 C1666.8,451.9 1679.5,455.3 1686.6,452.2 C1693.7,449.1 1697.4,440.2 1700.5,436.0 C1703.6,431.8 1703.5,430.6 1705.0,426.7 C1706.5,422.8 1707.4,414.0 1709.7,412.8 C1712.0,411.6 1715.5,416.2 1719.0,419.7 C1722.5,423.2 1727.1,427.8 1730.6,433.6 C1734.1,439.4 1738.0,446.8 1739.9,454.5 C1741.8,462.2 1741.6,471.9 1742.2,480.0 C1742.8,488.1 1744.1,495.5 1743.3,503.2 C1742.5,510.9 1740.5,517.8 1737.6,526.3 C1734.7,534.8 1730.7,546.0 1726.0,554.1 C1721.3,562.2 1716.7,569.6 1709.7,575.0 C1702.8,580.4 1693.2,584.7 1684.3,586.6 C1675.4,588.5 1663.8,588.2 1656.5,586.6 C1649.2,585.0 1644.8,581.6 1640.2,577.3 C1635.6,573.0 1631.0,567.5 1628.7,561.0 C1626.4,554.5 1626.5,546.9 1626.3,538.0 C1626.1,529.1 1626.7,517.5 1627.5,507.8 C1628.3,498.1 1630.2,486.6 1631.0,480.0 C1631.8,473.4 1627.8,472.7 1632.3,468.5Z" fill="#020202" />
<path d="M1592,480 L1620,478 L1622,505 L1600,510 L1590,500Z" fill="#5a5a5a"/>
</g><g filter="url(#ctf2)">
<circle cx="1613.4" cy="522.7" r="15.5" fill="#c6c6c6"/>
<path d="M1560,540 C1562,530 1572,527 1585,527 C1600,527 1610,535 1611,550 C1612,562 1605,569 1595,567 C1590,566 1583,566 1578,568 C1566,570 1558,562 1558,552Z" fill="#9e9e9e" stroke="#f2f2f2" stroke-width="3"/>
<path d="M1563,576 C1570,574 1578,578 1585,576 C1592,578 1600,574 1608,576 L1606,584 C1598,584 1592,586 1588,596 L1585,596 C1581,586 1575,584 1565,584Z" fill="#efefef"/>
<ellipse cx="1429" cy="454.5" rx="5" ry="19" transform="rotate(15 1429 454.5)" fill="none" stroke="#f2f2f2" stroke-width="2.2"/>
<ellipse cx="1427.4" cy="533.3" rx="4.5" ry="18" transform="rotate(-15 1427.4 533.3)" fill="none" stroke="#f2f2f2" stroke-width="2.2"/>
<ellipse cx="1477" cy="597" rx="22" ry="6" transform="rotate(25 1477 597)" fill="none" stroke="#f2f2f2" stroke-width="2.2"/>
<ellipse cx="1532" cy="597" rx="8" ry="6" transform="rotate(-30 1532 597)" fill="none" stroke="#f2f2f2" stroke-width="2.2"/>
<ellipse cx="1737.5" cy="535.6" rx="5" ry="16" transform="rotate(15 1737.5 535.6)" fill="none" stroke="#f2f2f2" stroke-width="2.2"/>
<ellipse cx="1693.5" cy="589.5" rx="19" ry="6" transform="rotate(-28 1693.5 589.5)" fill="none" stroke="#f2f2f2" stroke-width="2.2"/>
<ellipse cx="1646" cy="596.4" rx="9" ry="5.5" transform="rotate(15 1646 596.4)" fill="none" stroke="#f2f2f2" stroke-width="2.2"/>
<ellipse cx="1744" cy="464.3" rx="4.5" ry="14.5" transform="rotate(0 1744 464.3)" fill="none" stroke="#f2f2f2" stroke-width="2.2"/>
<ellipse cx="1530" cy="374" rx="13" ry="6" fill="#6a6a6a"/><ellipse cx="1552" cy="372" rx="6" ry="4.5" fill="#686868"/>
<path d="M1619,370 C1650,372 1690,380 1712,392 L1708,400 C1680,392 1650,386 1619,382Z" fill="#585858"/>
<circle cx="1516.7" cy="373.3" r="1.5" fill="#fff"/><ellipse cx="1533.8" cy="373.3" rx="2.6" ry="1.8" fill="#fff"/><circle cx="1580" cy="372" r="2" fill="#fff"/><circle cx="1586" cy="370" r="2" fill="#fff"/><circle cx="1590" cy="376" r="1.8" fill="#fff"/><circle cx="1584" cy="378" r="1.6" fill="#fff"/>
<ellipse cx="1708" cy="396" rx="5" ry="7.5" transform="rotate(-20 1708 396)" fill="none" stroke="#f2f2f2" stroke-width="1.8"/>
</g>
<g filter="url(#b1)" stroke-linecap="round" fill="none">
<path d="M51,377 C62,373 80,364 98,351" stroke="#8a826b" stroke-width="8"/>
<path d="M51,377 C62,373 80,364 98,351" stroke="#bdb59b" stroke-width="5.8"/>
<path d="M51,377 C62,373 80,364 98,351" stroke="#ddd5bd" stroke-width="2.8" transform="translate(-1,0)"/>
<path d="M102,346 C101,365 100,390 101,412" stroke="#8a826b" stroke-width="10"/>
<path d="M102,346 C101,365 100,390 101,412" stroke="#bdb59b" stroke-width="7.2"/>
<path d="M102,346 C101,365 100,390 101,412" stroke="#ddd5bd" stroke-width="3.5" transform="translate(-1,0)"/>
<path d="M135.6,346 C135,365 131,382 124,394 C116,404 100,412 88,422 C84,426 81,430 80,434" stroke="#8a826b" stroke-width="8"/>
<path d="M135.6,346 C135,365 131,382 124,394 C116,404 100,412 88,422 C84,426 81,430 80,434" stroke="#bdb59b" stroke-width="5.8"/>
<path d="M135.6,346 C135,365 131,382 124,394 C116,404 100,412 88,422 C84,426 81,430 80,434" stroke="#ddd5bd" stroke-width="2.8" transform="translate(-1,0)"/>
<path d="M216,373 C210,370 198,358 186,355 C172,352 162,358 156,372 C150,386 144,396 134,404 C122,413 106,418 94,428" stroke="#8a826b" stroke-width="10"/>
<path d="M216,373 C210,370 198,358 186,355 C172,352 162,358 156,372 C150,386 144,396 134,404 C122,413 106,418 94,428" stroke="#bdb59b" stroke-width="7.2"/>
<path d="M216,373 C210,370 198,358 186,355 C172,352 162,358 156,372 C150,386 144,396 134,404 C122,413 106,418 94,428" stroke="#ddd5bd" stroke-width="3.5" transform="translate(-1,0)"/>
<path d="M110,536 C100,524 91,507 89,485 C88,468 90,450 100,441 C112,436 140,436 156,439 C170,443 180,456 183,472 C187,488 188,503 188.5,515" stroke="#8a826b" stroke-width="31"/>
<path d="M110,536 C100,524 91,507 89,485 C88,468 90,450 100,441 C112,436 140,436 156,439 C170,443 180,456 183,472 C187,488 188,503 188.5,515" stroke="#bdb59b" stroke-width="22.3"/>
<path d="M110,536 C100,524 91,507 89,485 C88,468 90,450 100,441 C112,436 140,436 156,439 C170,443 180,456 183,472 C187,488 188,503 188.5,515" stroke="#ddd5bd" stroke-width="10.8" transform="translate(-1,0)"/>
<path d="M188.5,512 C188,540 184,560 176,585 C170,602 164,615 160,630" stroke="#8a826b" stroke-width="27"/>
<path d="M188.5,512 C188,540 184,560 176,585 C170,602 164,615 160,630" stroke="#bdb59b" stroke-width="19.4"/>
<path d="M188.5,512 C188,540 184,560 176,585 C170,602 164,615 160,630" stroke="#ddd5bd" stroke-width="9.4" transform="translate(-1,0)"/>
<circle cx="111" cy="534" r="20" fill="#8a826b" stroke="none"/>
<circle cx="110" cy="532" r="15" fill="#bdb59b" stroke="none"/>
<circle cx="108" cy="530" r="8" fill="#ddd5bd" stroke="none"/>
<path d="M121,424 C128,421 140,420 146,421 L147,455 C140,456 130,456 121,457Z" fill="#8e8b7e" stroke="none"/>
<g stroke="#3e3c35" stroke-width="0.9"><path d="M119,423 L125,456 M125,423 L119,456"/><path d="M123,423 L129,456 M129,423 L123,456"/><path d="M127,423 L133,456 M133,423 L127,456"/><path d="M131,423 L137,456 M137,423 L131,456"/><path d="M135,423 L141,456 M141,423 L135,456"/><path d="M139,423 L145,456 M145,423 L139,456"/><path d="M143,423 L149,456 M149,423 L143,456"/><path d="M121,432 L147,431 M121,441 L147,440 M121,449 L147,448"/></g>
<path d="M150,426 L160,440 L168,428 L176,445 L167,452 L183,458 L172,467 L190,472 L175,480 L193,486 L177,494 L194,500 L178,507 L195,512" stroke="#4e4b42" stroke-width="1.5"/>
<path d="M158,424 L150,436 M172,432 L160,444 M184,452 L168,462" stroke="#4e4b42" stroke-width="1.2"/>
</g>
<text x="7" y="404" fill="#d7a21e" font-family="Liberation Sans, Arial, sans-serif" font-size="8.2" textLength="46" lengthAdjust="spacingAndGlyphs">Non GE image</text>
<text x="7" y="414.5" fill="#d7a21e" font-family="Liberation Sans, Arial, sans-serif" font-size="8.2">DFOV 25.6 cm</text>
<text x="7" y="425" fill="#d7a21e" font-family="Liberation Sans, Arial, sans-serif" font-size="8.2">No Filter</text>
<text x="7" y="477" fill="#c8402a" font-family="Liberation Sans, Arial, sans-serif" font-size="8.2">R</text>
<text x="7" y="486.5" fill="#c8402a" font-family="Liberation Sans, Arial, sans-serif" font-size="8.2">A</text>
<text x="7" y="550.5" fill="#d7a21e" font-family="Liberation Sans, Arial, sans-serif" font-size="8.2">No VOI</text>
<text x="7" y="589.6" fill="#d7a21e" font-family="Liberation Sans, Arial, sans-serif" font-size="8.2">1.0mm /0.80sp</text>
<text x="7" y="608.8" fill="#d7a21e" font-family="Liberation Sans, Arial, sans-serif" font-size="8.2">02:27:22 PM</text>
<text x="7" y="618.2" fill="#d7a21e" font-family="Liberation Sans, Arial, sans-serif" font-size="8.2">W = 800 L = 100</text>
<text x="247" y="435" fill="#d7a21e" font-family="Liberation Sans, Arial, sans-serif" font-size="8.2">Calc. incl.</text>
<text x="271.5" y="477" fill="#c8402a" font-family="Liberation Sans, Arial, sans-serif" font-size="8.2">L</text>
<text x="271.5" y="486.5" fill="#c8402a" font-family="Liberation Sans, Arial, sans-serif" font-size="8.2">P</text>
<text x="261" y="541.5" fill="#d7a21e" font-family="Liberation Sans, Arial, sans-serif" font-size="8.2">403/1</text>
<text x="146" y="354.8" fill="#c8402a" font-family="Liberation Sans, Arial, sans-serif" font-size="8.2">S</text>
<text x="147" y="617" fill="#c8402a" font-family="Liberation Sans, Arial, sans-serif" font-size="8.2">I</text>
</g>
</svg>
<div class="plet" style="left:17.5px;top:330.4px">D</div>
<div class="plet" style="left:296px;top:329.4px">E</div>
<div class="plet" style="left:667px;top:330.2px">F</div>
<div class="plet" style="left:1038.5px;top:330.2px">G</div>
<div class="plet" style="left:1409px;top:330.2px">H</div>
</div>
</body></html>
